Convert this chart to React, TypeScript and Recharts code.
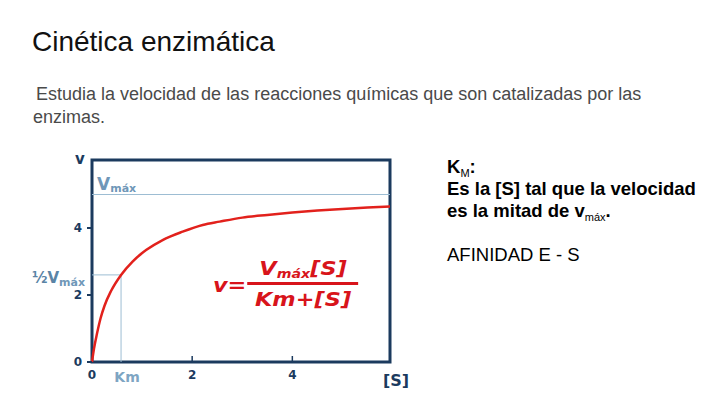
import React from 'react';
import {
  LineChart,
  Line,
  XAxis,
  YAxis,
  ReferenceLine,
  ReferenceArea,
} from 'recharts';

// substrate concentration [S] and reaction velocity v
const substrate = [0, 0.04, 0.1, 0.17, 0.25, 0.38, 0.58, 0.81, 1.08, 1.41, 1.81, 2.21, 2.55, 3.0, 3.5, 4.0, 4.5, 5.0, 5.5, 5.95];
const velocity = [0, 0.4, 0.85, 1.3, 1.68, 2.12, 2.6, 3.0, 3.34, 3.64, 3.89, 4.09, 4.19, 4.31, 4.39, 4.46, 4.52, 4.57, 4.61, 4.64];

const xTicks = [0, 2, 4];
const yTicks = [0, 2, 4];
const xDomain = [0, 5.95];
const yDomain = [0, 6.03];

const vMax = 5;
const halfVMax = 2.6;
const km = 0.58;

const NAVY = '#1b3a5e';
const STEEL = '#6f97b8';
const GUIDE = '#9dbdd3';
const RED = '#e2211c';
const FONT = '"DejaVu Sans", Verdana, sans-serif';

const chartData = substrate.map((s, i) => ({ s, v: velocity[i] }));

const VmaxLabel = (props: any) => {
  const { viewBox } = props;
  return (
    <text x={viewBox.x + 5} y={viewBox.y - 5} fill={STEEL} fontFamily={FONT} fontWeight="bold">
      <tspan fontSize={17}>V</tspan>
      <tspan fontSize={11} dy={2}>máx</tspan>
    </text>
  );
};

const HalfLabel = (props: any) => {
  const { viewBox } = props;
  return (
    <text x={viewBox.x - 7} y={viewBox.y + 8} fill={STEEL} fontFamily={FONT} fontWeight="bold" textAnchor="end">
      <tspan fontSize={15} fill="#5a84a6">½V</tspan>
      <tspan fontSize={11} dy={3}>máx</tspan>
    </text>
  );
};

const KmLabel = (props: any) => {
  const { viewBox } = props;
  return (
    <text x={viewBox.x + 6} y={viewBox.y + viewBox.height + 20} fill="#7ea5c3" fontFamily={FONT} fontWeight="bold" fontSize={14} textAnchor="middle">
      Km
    </text>
  );
};

const SLabel = (props: any) => {
  const { viewBox } = props;
  return (
    <text x={viewBox.x + viewBox.width + 6} y={viewBox.y + 24} fill={NAVY} fontFamily={FONT} fontWeight="bold" fontSize={16} textAnchor="middle">
      [S]
    </text>
  );
};

const VLabel = (props: any) => {
  const { viewBox } = props;
  return (
    <text x={viewBox.x + viewBox.width - 12} y={viewBox.y + 4} fill={NAVY} fontFamily={FONT} fontWeight="bold" fontSize={15} textAnchor="middle">
      v
    </text>
  );
};

const tickStyle = { fill: NAVY, fontFamily: FONT, fontWeight: 'bold', fontSize: 12 };
const subStyle: React.CSSProperties = { fontSize: 11, position: 'relative', top: 4, lineHeight: 0, fontWeight: 'normal' };

export default function App() {
  return (
    <div style={{ position: 'absolute', left: 0, top: 0, width: 720, height: 405, background: '#fff', fontFamily: '"Liberation Sans", Arial, sans-serif' }}>
      <div style={{ position: 'absolute', left: 32, top: 26, fontSize: 28, lineHeight: '32px', color: '#111' }}>
        Cinética enzimática
      </div>
      <div style={{ position: 'absolute', left: 33, top: 83, fontSize: 18, lineHeight: '23px', color: '#4a4a4a', whiteSpace: 'nowrap' }}>
        <span style={{ paddingLeft: 3 }}>Estudia la velocidad de las reacciones químicas que son catalizadas por las</span>
        <br />
        enzimas.
      </div>

      <div style={{ position: 'absolute', left: 0, top: 0 }}>
        <LineChart width={720} height={405} data={chartData} margin={{ top: 160, right: 330, bottom: 13, left: 62 }}>
          <XAxis
            dataKey="s"
            type="number"
            domain={xDomain}
            ticks={xTicks}
            tickSize={0}
            tickMargin={8}
            axisLine={false}
            tick={tickStyle}
            height={30}
            label={<SLabel />}
          />
          <YAxis
            type="number"
            domain={yDomain}
            ticks={yTicks}
            tickSize={5}
            tickMargin={5}
            axisLine={false}
            tickLine={{ stroke: NAVY, strokeWidth: 2 }}
            tick={tickStyle}
            width={30}
            label={<VLabel />}
          />
          <ReferenceLine y={vMax} stroke={GUIDE} strokeWidth={1} label={<VmaxLabel />} />
          <ReferenceLine segment={[{ x: 0, y: halfVMax }, { x: km, y: halfVMax }]} stroke={GUIDE} strokeWidth={1} label={<HalfLabel />} />
          <ReferenceLine segment={[{ x: km, y: 0 }, { x: km, y: halfVMax }]} stroke={GUIDE} strokeWidth={1} label={<KmLabel />} />
          {xTicks.slice(1).map((t) => (
            <ReferenceLine key={t} segment={[{ x: t, y: 0 }, { x: t, y: 0.18 }]} stroke={NAVY} strokeWidth={1.5} />
          ))}
          <Line type="monotone" dataKey="v" stroke={RED} strokeWidth={2.5} dot={false} isAnimationActive={false} />
          <ReferenceArea x1={xDomain[0]} x2={xDomain[1]} y1={yDomain[0]} y2={yDomain[1]} fill="none" stroke={NAVY} strokeWidth={3} />
        </LineChart>
      </div>

      <div style={{ position: 'absolute', left: 213, top: 259, color: '#d8141b', fontFamily: FONT, fontWeight: 'bold', fontStyle: 'italic', transform: 'scaleX(1.18)', transformOrigin: 'left center', display: 'flex', alignItems: 'center' }}>
        <span style={{ fontSize: 19, marginRight: 1 }}>v=</span>
        <div style={{ display: 'flex', flexDirection: 'column', alignItems: 'center', width: 94 }}>
          <div style={{ fontSize: 19, lineHeight: '18px' }}>
            V<span style={{ fontSize: 12, position: 'relative', top: 3 }}>máx</span>[S]
          </div>
          <div style={{ width: 94, height: 3, background: '#d8141b', marginTop: 2 }} />
          <div style={{ fontSize: 19, lineHeight: '22px', marginTop: 3 }}>Km+[S]</div>
        </div>
      </div>

      <div style={{ position: 'absolute', left: 447, top: 156, fontSize: 18.5, lineHeight: '22px', color: '#000', whiteSpace: 'nowrap' }}>
        <div style={{ fontWeight: 'bold' }}>
          K<span style={subStyle}>M</span>:
        </div>
        <div style={{ fontWeight: 'bold' }}>Es la [S] tal que la velocidad</div>
        <div style={{ fontWeight: 'bold' }}>
          es la mitad de v<span style={subStyle}>máx</span>.
        </div>
        <div style={{ marginTop: 22 }}>AFINIDAD E - S</div>
      </div>
    </div>
  );
}
